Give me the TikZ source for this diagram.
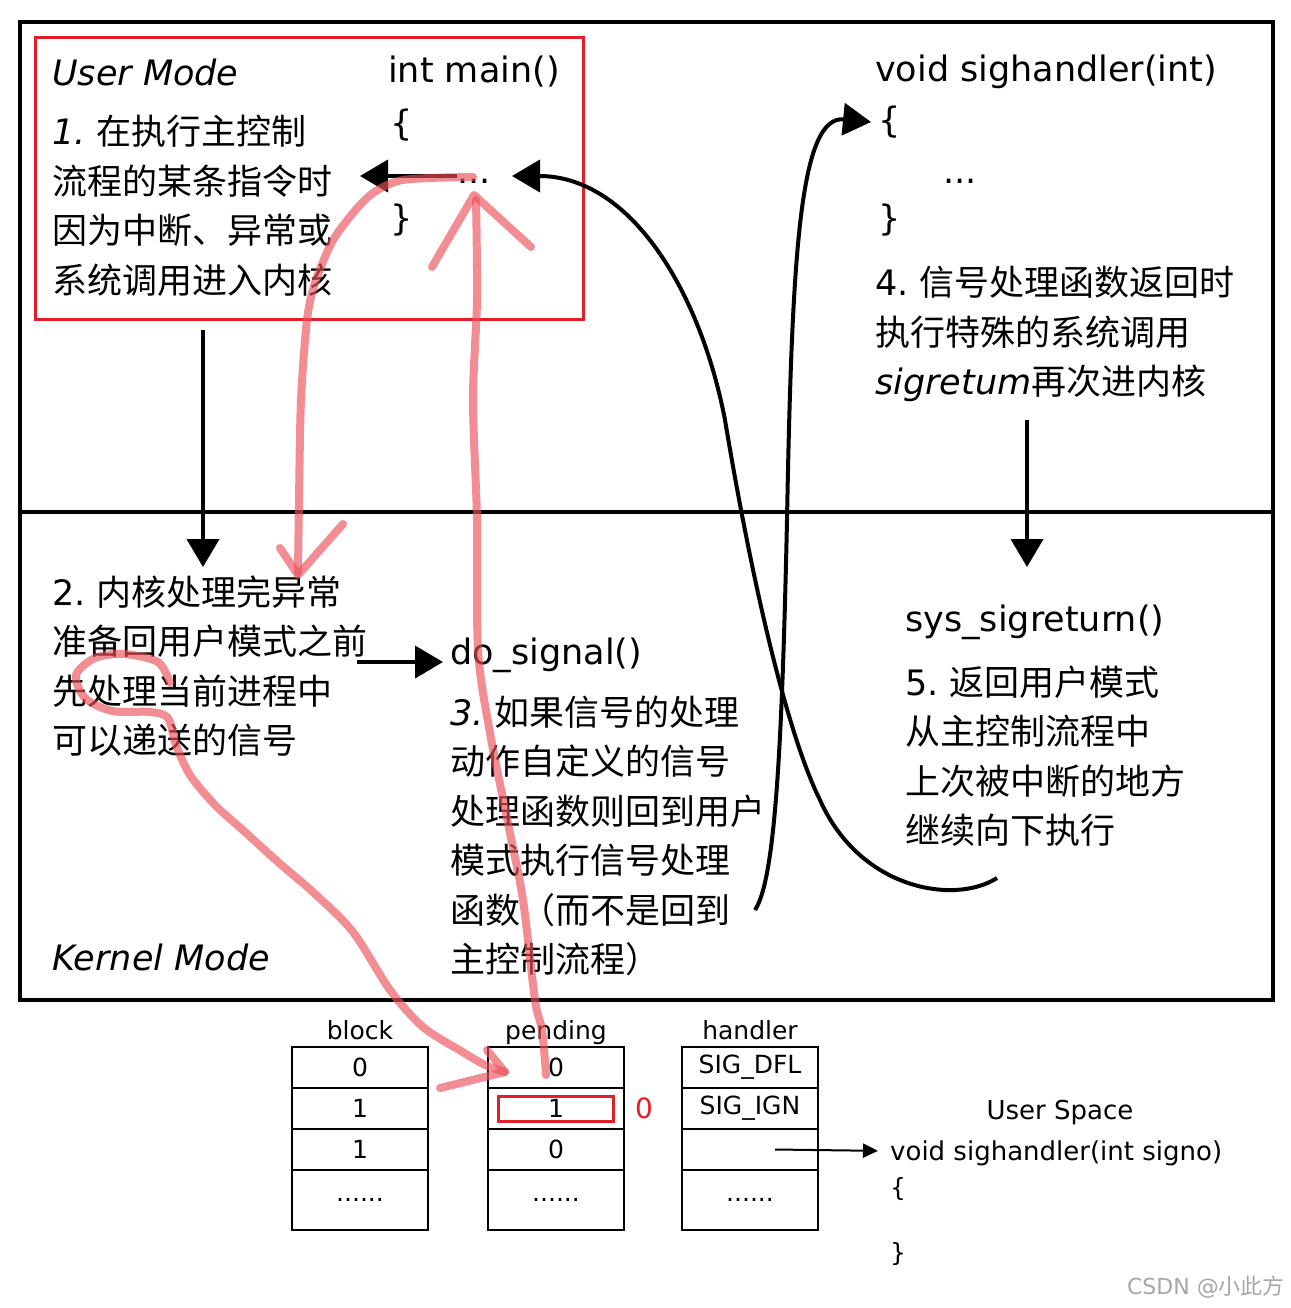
\documentclass[tikz,border=0pt]{standalone}
\usepackage{fontspec}
\setmainfont{DejaVu Sans}
\newfontfamily\cjk{Noto Sans CJK SC}
\usetikzlibrary{arrows.meta,positioning}
\definecolor{boxred}{RGB}{228,30,38}
\definecolor{penred}{RGB}{235,80,90}

\begin{document}
\begin{tikzpicture}[
    x=1pt, y=-1pt,
    >={Triangle[length=28pt,width=32pt]},
    outerframe/.style={line width=4pt},
    arr/.style={->, line width=4pt},
    txt/.style={anchor=west, align=left, inner sep=0pt, font=\cjk\fontsize{35}{49.5}\selectfont},
    codetxt/.style={anchor=west, inner sep=0pt, font=\fontsize{35}{40}\selectfont},
    trapbox/.style={draw=boxred, line width=3pt, minimum width=548pt, minimum height=281pt},
    cell/.style={draw, line width=2.5pt, minimum width=136pt, minimum height=41pt, outer sep=0pt, inner sep=0pt, font=\fontsize{25}{30}\selectfont},
    tlbl/.style={inner sep=0pt, text depth=0pt, font=\fontsize{25}{30}\selectfont},
    thinarr/.style={-{Triangle[length=15pt,width=14pt]}, line width=2pt},
    pinkpen/.style={line width=8pt, draw=penred, opacity=.65, line cap=round, line join=round}
]
\useasboundingbox (0,0) rectangle (1290,1308);

% frame: user mode above, kernel mode below
\draw[outerframe] (20,22) rectangle (1273,1000);
\draw[outerframe] (20,512) -- (1273,512);
\node[trapbox] (usrbox) at (309,178.5) {};

% user mode
\node[codetxt] (umode) at (52,72) {\itshape User Mode};
\node[txt] (step1) at (52,206) {{\rmfamily\itshape 1.} 在执行主控制\\流程的某条指令时\\因为中断、异常或\\系统调用进入内核};
\node[codetxt] (mainhd) at (388,72) {int main()};
\node[codetxt] (mlb) at (390,125) {\{};
\node[codetxt, anchor=base] (mdots) at (474,184) {...};
\node[codetxt] (mrb) at (390,220) {\}};

\node[codetxt] (hhead) at (875,72) {void sighandler(int)};
\node[codetxt] (hlb) at (878,122) {\{};
\node[codetxt, anchor=base] (hdots) at (960,184) {...};
\node[codetxt] (hrb) at (878,220) {\}};
\node[txt] (step4) at (875,334) {{\rmfamily 4.} 信号处理函数返回时\\执行特殊的系统调用\\{\rmfamily\itshape sigretum}再次进内核};

% kernel mode
\node[txt] (step2) at (52,666) {{\rmfamily 2.} 内核处理完异常\\准备回用户模式之前\\先处理当前进程中\\可以递送的信号};
\node[codetxt] (kmode) at (52,957) {\itshape Kernel Mode};
\node[codetxt] (dosig) at (450,655) {do\_signal()};
\node[txt] (step3) at (450,836) {{\rmfamily\itshape 3.} 如果信号的处理\\动作自定义的信号\\处理函数则回到用户\\模式执行信号处理\\函数（而不是回到\\主控制流程）};
\node[codetxt] (sret) at (905,622) {sys\_sigreturn()};
\node[txt] (step5) at (905,756) {{\rmfamily 5.} 返回用户模式\\从主控制流程中\\上次被中断的地方\\继续向下执行};

\coordinate (intr) at (360,176);
\coordinate (trapout) at (203,330);
\coordinate (trapin) at (203,567);
\coordinate (retout) at (1027,420);
\coordinate (retin) at (1027,567);
\coordinate (dsfrom) at (357,662);
\coordinate (sigfrom) at (755,910);
\coordinate (retfrom) at (997,878);
\coordinate (mret) at (512,176);

\draw[arr] (mdots.west |- intr) -- (intr);
\draw[arr] (trapout) -- (trapin);
\draw[arr] (retout) -- (retin);
\draw[arr, shorten >=7pt] (dsfrom) -- (dsfrom -| dosig.west);
\draw[arr] (sigfrom) .. controls (775,880) and (782,750) .. (787,520)
    .. controls (792,250) and (800,115) .. ([xshift=-7pt]hlb.west);
\draw[arr] (retfrom) .. controls (955,905) and (860,890) .. (820,800)
    .. controls (790,740) and (755,600) .. (725,420)
    .. controls (700,290) and (630,176) .. (mret);

% signal tables
\node[cell] (b1) at (360,1067.5) {0};
\node[cell, below=0pt of b1] (b2) {1};
\node[cell, below=0pt of b2] (b3) {1};
\node[cell, below=0pt of b3, minimum height=60pt] (b4) {......};
\node[cell, right=60pt of b1] (p1) {0};
\node[cell, below=0pt of p1] (p2) {1};
\node[cell, below=0pt of p2] (p3) {0};
\node[cell, below=0pt of p3, minimum height=60pt] (p4) {......};
\node[cell, right=58pt of p1] (h1) {SIG\_DFL};
\node[cell, below=0pt of h1] (h2) {SIG\_IGN};
\node[cell, below=0pt of h2] (h3) {};
\node[cell, below=0pt of h3, minimum height=60pt] (h4) {......};
\node[tlbl, above=7pt of b1] (blbl) {block};
\node[tlbl, above=7pt of p1] (plbl) {pending};
\node[tlbl, above=7pt of h1] (hlbl) {handler};
\node[draw=boxred, line width=3pt, minimum width=115pt, minimum height=25pt] (p2mark) at (p2) {};
\node[tlbl, text=boxred, right=11pt of p2, font=\fontsize{28}{30}\selectfont] (p2new) {0};

\node[tlbl, font=\fontsize{26}{30}\selectfont] (uspace) at (1060,1110) {User Space};
\node[tlbl, anchor=west, font=\fontsize{26}{30}\selectfont] (usersig) at (890,1151) {void sighandler(int signo)};
\node[tlbl, anchor=west] (ulb) at (890,1187) {\{};
\node[tlbl, anchor=west] (urb) at (890,1252) {\}};
\draw[thinarr, shorten >=12pt] ([xshift=25pt]h3.center) -- (usersig.west);

\node[tlbl, anchor=east, text=black!35, font=\fontsize{22}{26}\selectfont] (csdn) at (1285,1285) {CSDN @{\cjk 小此方}};

% hand-drawn marks
\draw[pinkpen] plot[smooth] coordinates {(473,177) (430,178) (398,181) (373,193) (353,213) (332,242) (315,283) (307,320) (301,400) (299,500) (298,573)};
\draw[pinkpen] (280,548) -- (298,575) -- (343,524);
\draw[pinkpen] plot[smooth] coordinates {(170,683) (158,662) (124,654) (95,658) (76,675) (85,698) (112,711) (150,712) (168,718) (176,745) (190,775) (215,805) (245,832) (278,862) (314,893) (353,932) (390,990) (423,1027) (461,1051) (485,1065) (505,1072)};
\draw[pinkpen] (487,1050) -- (505,1072) -- (440,1088);
\draw[pinkpen] plot[smooth] coordinates {(546,1075) (542,1030) (535,1000) (523,900) (510,833) (490,733) (478,650) (477,520) (473,400) (477,300) (476,200)};
\draw[pinkpen] (432,267) -- (474,195) -- (531,247);
\end{tikzpicture}
\end{document}
